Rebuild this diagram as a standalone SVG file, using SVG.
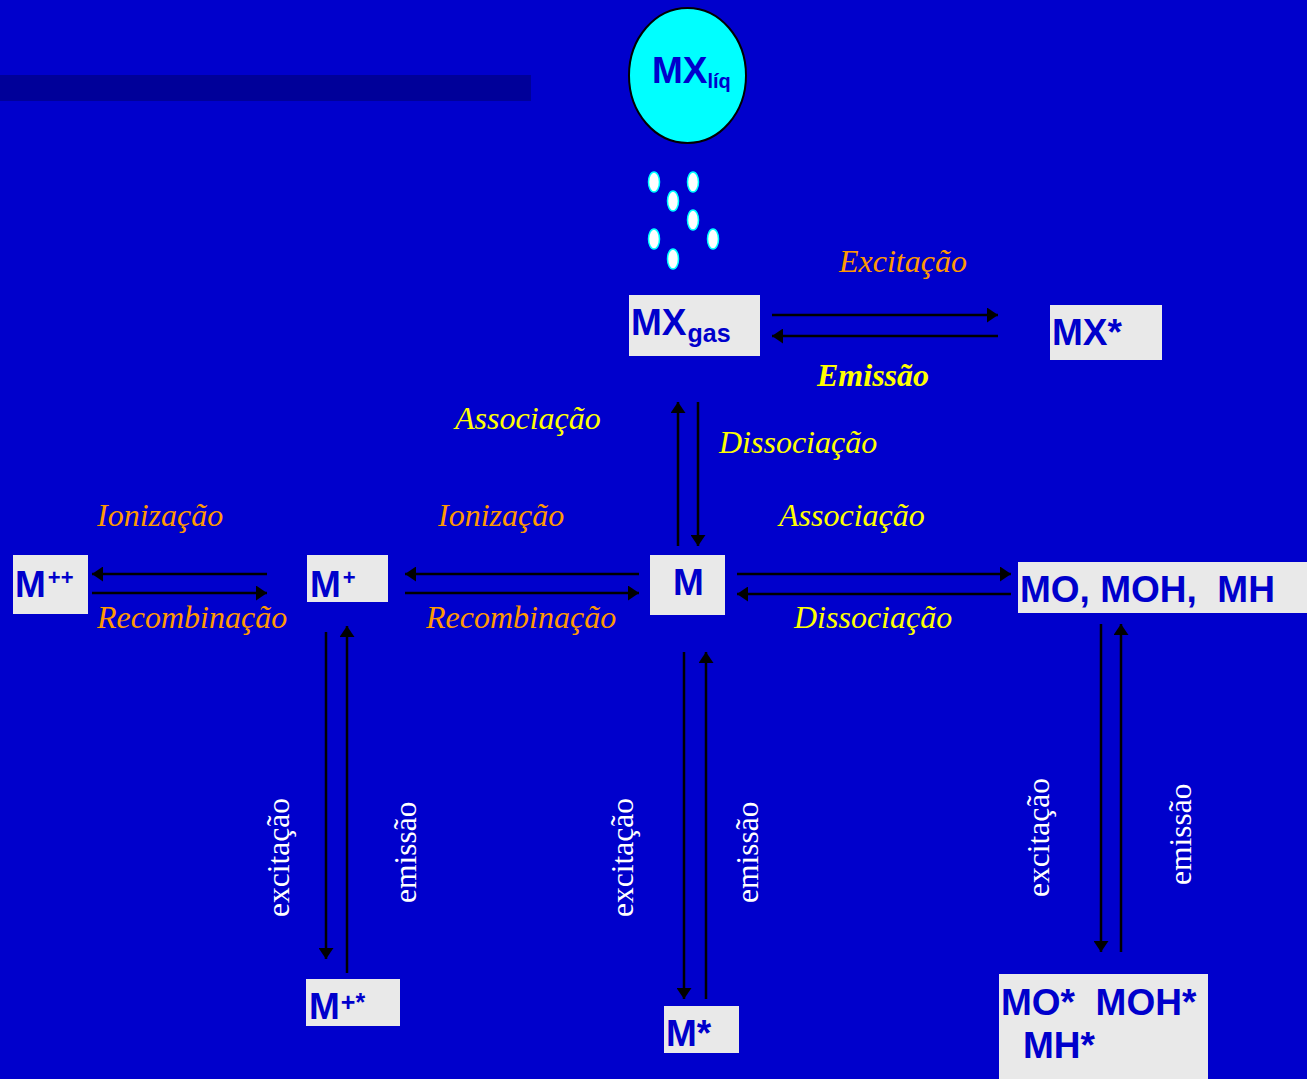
<svg xmlns="http://www.w3.org/2000/svg" width="1307" height="1079" viewBox="0 0 1307 1079">
<defs>
<style>
.box{fill:#E9E9E9}
.nt{font-family:"Liberation Sans",Arial,sans-serif;font-weight:bold;font-size:37px;fill:#0000CC;white-space:pre}
.lb{font-family:"Liberation Serif","Times New Roman",serif;font-style:italic;font-size:32px}
.or{fill:#FF9900}
.ye{fill:#FFFF00}
.vt{font-family:"Liberation Serif","Times New Roman",serif;font-size:31.5px;fill:#FFFFFF}
.ln{stroke:#000000;stroke-width:2.5;fill:none;marker-end:url(#ah)}
.drop{fill:#FFFFFF;stroke:#00FFFF;stroke-width:1.5}
</style>
<marker id="ah" markerUnits="userSpaceOnUse" markerWidth="12" markerHeight="15" refX="11" refY="7.5" orient="auto">
<path d="M0,0 L11,7.5 L0,15 z" fill="#000000"/>
</marker>
</defs>
<rect x="0" y="0" width="1307" height="1079" fill="#0000CC"/>
<rect x="0" y="75" width="531" height="26" fill="#000099"/>

<g id="node-mxliq">
<ellipse cx="687.5" cy="75.5" rx="58.5" ry="67.5" fill="#00FFFF" stroke="#000000" stroke-width="2"/>
<text x="652" y="83" class="nt" font-size="30">MX<tspan font-size="20" y="88">líq</tspan></text>
</g>

<g id="droplets">
<ellipse class="drop" cx="654" cy="182" rx="5.5" ry="10"/>
<ellipse class="drop" cx="693" cy="182" rx="5.5" ry="10"/>
<ellipse class="drop" cx="673" cy="201" rx="5.5" ry="10"/>
<ellipse class="drop" cx="693" cy="220" rx="5.5" ry="10"/>
<ellipse class="drop" cx="654" cy="239" rx="5.5" ry="10"/>
<ellipse class="drop" cx="713" cy="239" rx="5.5" ry="10"/>
<ellipse class="drop" cx="673" cy="259" rx="5.5" ry="10"/>
</g>

<g id="node-mxgas">
<rect class="box" x="629" y="295" width="131" height="61"/>
<text x="631" y="335" class="nt">MX<tspan font-size="25" y="342" dx="1">gas</tspan></text>
</g>

<g id="node-mxstar">
<rect class="box" x="1050" y="305" width="112" height="55"/>
<text x="1052" y="345" class="nt">MX*</text>
</g>

<g id="node-mpp">
<rect class="box" x="13" y="555" width="75" height="59"/>
<text x="15" y="597" class="nt">M<tspan font-size="22" y="585" dx="2">++</tspan></text>
</g>

<g id="node-mp">
<rect class="box" x="307" y="555" width="81" height="47"/>
<text x="310" y="597" class="nt">M<tspan font-size="22" y="585" dx="2">+</tspan></text>
</g>

<g id="node-m">
<rect class="box" x="650" y="555" width="75" height="60"/>
<text x="673" y="595" class="nt">M</text>
</g>

<g id="node-mo">
<rect class="box" x="1018" y="562" width="289" height="51"/>
<text x="1020" y="602" class="nt">MO, MOH,  MH</text>
</g>

<g id="node-mpstar">
<rect class="box" x="306" y="979" width="94" height="47"/>
<text x="309" y="1019" class="nt">M<tspan font-size="25" y="1011" dx="1">+*</tspan></text>
</g>

<g id="node-mstar">
<rect class="box" x="664" y="1006" width="75" height="47"/>
<text x="666" y="1046" class="nt">M*</text>
</g>

<g id="node-mostar">
<rect class="box" x="999" y="974" width="209" height="105"/>
<text x="1001" y="1015" class="nt">MO*  MOH*</text>
<text x="1023" y="1058" class="nt">MH*</text>
</g>

<g id="connectors">
<line class="ln" x1="772" y1="315" x2="998" y2="315"/>
<line class="ln" x1="998" y1="336" x2="772" y2="336"/>
<line class="ln" x1="678" y1="546" x2="678" y2="402"/>
<line class="ln" x1="698" y1="402" x2="698" y2="546"/>
<line class="ln" x1="639" y1="574" x2="405" y2="574"/>
<line class="ln" x1="405" y1="593" x2="639" y2="593"/>
<line class="ln" x1="267" y1="574" x2="92" y2="574"/>
<line class="ln" x1="92" y1="593" x2="267" y2="593"/>
<line class="ln" x1="737" y1="574" x2="1011" y2="574"/>
<line class="ln" x1="1011" y1="594" x2="737" y2="594"/>
<line class="ln" x1="326" y1="632" x2="326" y2="959"/>
<line class="ln" x1="347" y1="973" x2="347" y2="626"/>
<line class="ln" x1="684" y1="652" x2="684" y2="999"/>
<line class="ln" x1="706" y1="999" x2="706" y2="652"/>
<line class="ln" x1="1101" y1="624" x2="1101" y2="952"/>
<line class="ln" x1="1121" y1="952" x2="1121" y2="624"/>
</g>

<g id="labels">
<text x="839" y="272" class="lb or">Excitação</text>
<text x="817" y="386" class="lb ye" font-weight="bold">Emissão</text>
<text x="455" y="429" class="lb ye">Associação</text>
<text x="719" y="453" class="lb ye">Dissociação</text>
<text x="97" y="526" class="lb or">Ionização</text>
<text x="438" y="526" class="lb or">Ionização</text>
<text x="779" y="526" class="lb ye">Associação</text>
<text x="97" y="628" class="lb or">Recombinação</text>
<text x="426" y="628" class="lb or">Recombinação</text>
<text x="794" y="628" class="lb ye">Dissociação</text>
<text class="vt" transform="translate(289,917) rotate(-90)">excitação</text>
<text class="vt" transform="translate(416,903) rotate(-90)">emissão</text>
<text class="vt" transform="translate(633,917) rotate(-90)">excitação</text>
<text class="vt" transform="translate(758,903) rotate(-90)">emissão</text>
<text class="vt" transform="translate(1049,897) rotate(-90)">excitação</text>
<text class="vt" transform="translate(1191,885) rotate(-90)">emissão</text>
</g>
</svg>
